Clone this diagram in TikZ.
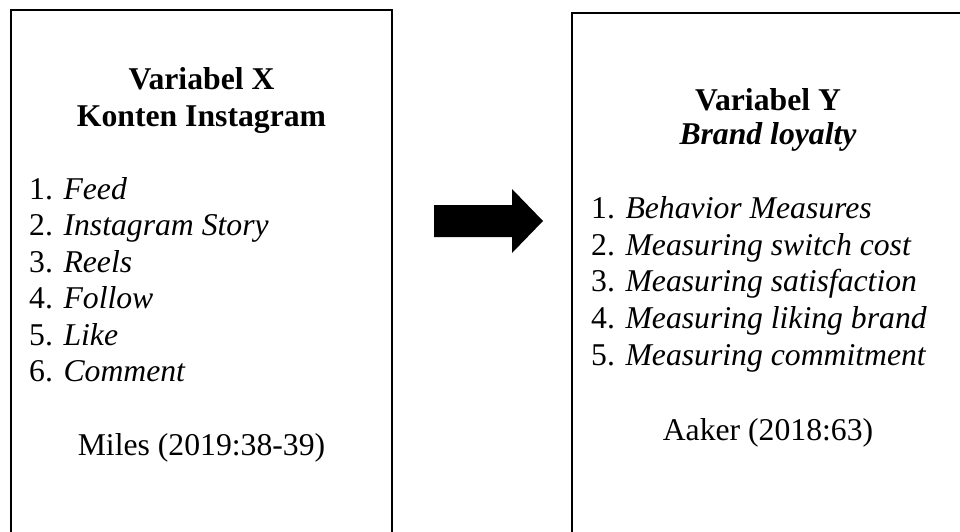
\documentclass[tikz,border=0pt]{standalone}
\usepackage{fontspec}
\setmainfont{Liberation Serif}
\begin{document}
\begin{tikzpicture}[x=1pt,y=1pt,
  boxline/.style={draw=black,line width=2pt},
  txt/.style={inner sep=0pt,font=\fontsize{31.7}{36.5}\selectfont},
  ttl/.style={txt,anchor=base,font=\fontsize{31.7}{36.5}\selectfont\bfseries},
  item/.style={txt,anchor=base west},
  cite/.style={txt,anchor=base}]
\useasboundingbox (0,0) rectangle (960,531);
\clip (0,0) rectangle (960,531);
% boxes
\draw[boxline] (11,-20) -- (11,520.5) -- (392,520.5) -- (392,-20);
\draw[boxline] (572,-20) -- (572,517.7) -- (980,517.7) -- (980,-20);
% arrow
\coordinate (a1) at (434,326);
\coordinate (a2) at (512,326);
\coordinate (a3) at (512,342);
\coordinate (tip) at (543,310);
\coordinate (a5) at (512,278);
\coordinate (a6) at (512,294);
\coordinate (a7) at (434,294);
\fill[black] (a1) -- (a2) -- (a3) -- (tip) -- (a5) -- (a6) -- (a7) -- cycle;
% left box text
\node[ttl] (xt1) at (201.5,441) {Variabel X};
\node[ttl] (xt2) at (201.5,404) {Konten Instagram};
\node[item] (x1) at (29,331.7) {1. \textit{Feed}};
\node[item] (x2) at (29,295.2) {2. \textit{Instagram Story}};
\node[item] (x3) at (29,258.7) {3. \textit{Reels}};
\node[item] (x4) at (29,222.2) {4. \textit{Follow}};
\node[item] (x5) at (29,185.7) {5. \textit{Like}};
\node[item] (x6) at (29,149.2) {6. \textit{Comment}};
\node[cite] (xc) at (201.5,76) {Miles (2019:38-39)};
% right box text
\node[ttl] (yt1) at (768,420) {Variabel Y};
\node[ttl] (yt2) at (768,386) {\itshape Brand loyalty};
\node[item] (y1) at (591,312.7) {1. \textit{Behavior Measures}};
\node[item] (y2) at (591,276.0) {2. \textit{Measuring switch cost}};
\node[item] (y3) at (591,239.3) {3. \textit{Measuring satisfaction}};
\node[item] (y4) at (591,202.6) {4. \textit{Measuring liking brand}};
\node[item] (y5) at (591,166.0) {5. \textit{Measuring commitment}};
\node[cite] (yc) at (768,91) {Aaker (2018:63)};
\end{tikzpicture}
\end{document}
